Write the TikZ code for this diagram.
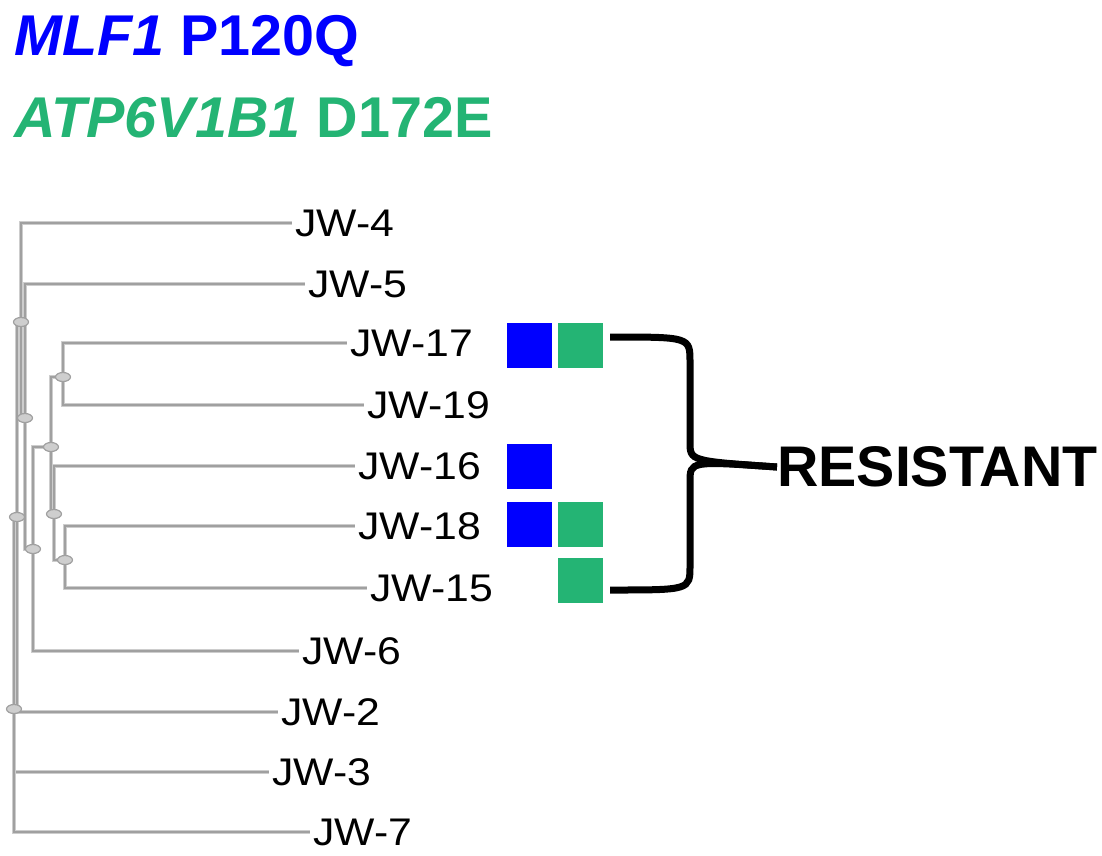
\documentclass[tikz,border=0pt]{standalone}
\usepackage{fontspec}
\setmainfont{Liberation Sans}
\newfontfamily\leaffont[FakeStretch=1.11]{Liberation Sans}
\usetikzlibrary{positioning,shapes.geometric,backgrounds}
\definecolor{mutblue}{RGB}{0,0,255}
\definecolor{mutgreen}{RGB}{36,180,116}
\definecolor{branchgray}{RGB}{160,160,160}
\definecolor{halogray}{RGB}{205,205,205}
\definecolor{knotgray}{RGB}{206,206,206}

\begin{document}
\begin{tikzpicture}[
  x=1pt, y=-1pt,
  knot/.style={ellipse, draw=branchgray, fill=knotgray, line width=1.2pt,
               minimum width=15pt, minimum height=9pt, inner sep=0pt},
  leaf/.style={anchor=west, inner xsep=3pt, inner ysep=0pt,
               font=\leaffont\fontsize{38.5}{44}\selectfont},
  branch/.style={draw=branchgray, line width=2.6pt,
                 preaction={draw=halogray, line width=4.4pt}},
  hit/.style={fill=#1, minimum size=45pt, inner sep=0pt},
  brace/.style={draw=black, line width=7pt},
]
\useasboundingbox (0,0) rectangle (1102,855);

%% ── LEGEND ───────────────────────────────────────────────────────────────
\node[anchor=base west, inner sep=0pt, text=mutblue,
      font=\fontsize{57.5}{64}\selectfont\bfseries] (legmlf) at (14,55)
  {\textit{MLF1} P120Q};
\node[anchor=base west, inner sep=0pt, text=mutgreen,
      font=\fontsize{57.5}{64}\selectfont\bfseries] (legatp) at (14,137)
  {\textit{ATP6V1B1} D172E};

%% ── LEAVES ───────────────────────────────────────────────────────────────
\node[leaf] (l4)  at (292,223) {JW-4};
\node[leaf] (l5)  at (305,284) {JW-5};
\node[leaf] (l17) at (347,343) {JW-17};
\node[leaf] (l19) at (364,405) {JW-19};
\node[leaf] (l16) at (355,466) {JW-16};
\node[leaf] (l18) at (355,526) {JW-18};
\node[leaf] (l15) at (367,588) {JW-15};
\node[leaf] (l6)  at (299,651) {JW-6};
\node[leaf] (l2)  at (278,712) {JW-2};
\node[leaf] (l3)  at (269,772) {JW-3};
\node[leaf] (l7)  at (310,832) {JW-7};

%% ── INTERNAL NODES ───────────────────────────────────────────────────────
\node[knot] (n1719) at (63,377) {};
\node[knot] (n1815) at (65,560) {};
\node[knot] (n16)   at (54,514) {};
\node[knot] (na)    at (51,447) {};
\node[knot] (nb)    at (33,549) {};
\node[knot] (nc)    at (25,418) {};
\node[knot] (nd)    at (21,322) {};
\node[knot] (ne)    at (17,517) {};
\node[knot] (root)  at (14,709) {};

%% ── BRANCHES ─────────────────────────────────────────────────────────────
\begin{scope}[on background layer]
  \draw[branch] (n1719.center) |- (l17.west);
  \draw[branch] (n1719.center) |- (l19.west);
  \draw[branch] (n1815.center) |- (l18.west);
  \draw[branch] (n1815.center) |- (l15.west);
  \draw[branch] (n16.center) |- (l16.west);
  \draw[branch] (n16.center) |- (n1815.center);
  \draw[branch] (na.center) |- (n1719.center);
  \draw[branch] (na.center) |- (n16.center);
  \draw[branch] (nb.center) |- (na.center);
  \draw[branch] (nb.center) |- (l6.west);
  \draw[branch] (nc.center) |- (l5.west);
  \draw[branch] (nc.center) |- (nb.center);
  \draw[branch] (nd.center) |- (l4.west);
  \draw[branch] (nd.center) |- (nc.center);
  \draw[branch] (ne.center) |- (nd.center);
  \draw[branch] (ne.center) |- (l2.west);
  \draw[branch] (root.center) |- (ne.center);
  \draw[branch] (root.center) |- (l3.west);
  \draw[branch] (root.center) |- (l7.west);
\end{scope}

%% ── MUTATION MARKS ───────────────────────────────────────────────────────
\node[hit=mutblue]  (b17) at (529,345) {};
\node[hit=mutgreen] (g17) at (580,345) {};
\node[hit=mutblue]  (b16) at (529,466) {};
\node[hit=mutblue]  (b18) at (529,524) {};
\node[hit=mutgreen] (g18) at (580,524) {};
\node[hit=mutgreen] (g15) at (580,580) {};

%% ── RESISTANT BRACE ──────────────────────────────────────────────────────
\node[anchor=west, inner sep=0pt, font=\fontsize{57.3}{62}\selectfont\bfseries]
  (res) at (777,467) {RESISTANT};
\coordinate (btop) at (610,337);
\coordinate (bbot) at (610,590);
\draw[brace] (btop) .. controls (690,337) .. (690,362) -- (690,442)
  .. controls (690,461) .. (res.west);
\draw[brace] (bbot) .. controls (690,590) .. (690,566) -- (690,482)
  .. controls (690,461) .. (res.west);
\end{tikzpicture}
\end{document}
